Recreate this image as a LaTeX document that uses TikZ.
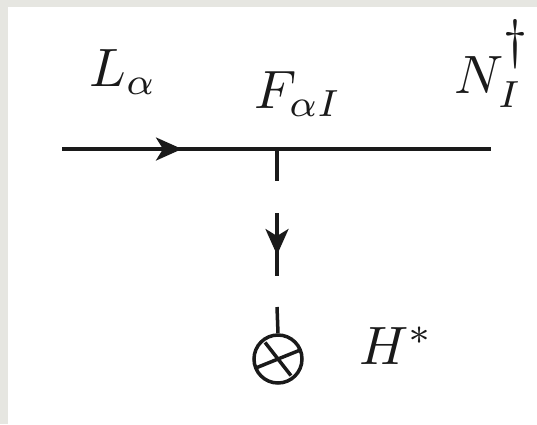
\documentclass[tikz,border=0pt]{standalone}
\usepackage{amsmath}
\usepackage{tikz}
\usetikzlibrary{arrows.meta}
\definecolor{paper}{HTML}{E6E6E1}
\definecolor{ink}{HTML}{1A1A1A}

\begin{document}
\begin{tikzpicture}[x=1pt, y=-1pt, line width=3.5pt, draw=ink,
    lbl/.style={inner sep=0pt, anchor=base west, text=ink, scale=5.4},
    flow/.style={-{Stealth[length=26pt, width=23pt, inset=7pt]}}]
    \fill[paper] (0,0) rectangle (537,424);
    \fill[white] (8,7) rectangle (537,424);
    \useasboundingbox (0,0) rectangle (537,424);
    % fermion line with the vertex in the middle
    \coordinate (lin) at (62,149);
    \coordinate (lout) at (491,149);
    \coordinate (vtx) at (277,149);
    \draw[ink] (lin) -- (lout);
    \draw[ink, flow] (lin) -- (182,149);
    % scalar line, drawn as three dashes
    \coordinate (d1) at (277,181);
    \coordinate (d2a) at (277,213);
    \coordinate (d2b) at (277,276);
    \coordinate (d3) at (277,307);
    \node[circle, draw=ink, line width=3.5pt, minimum size=48pt, inner sep=0pt] (vev) at (278,359) {};
    \draw[ink] (vtx) -- (d1);
    \draw[ink] (d2a) -- (d2b);
    \draw[ink, flow] (d2a) -- (277,255);
    \draw[ink] (d3) -- (vev.north);
    \draw[ink] (vev.center) ++(158:23) -- ++(-22:46);
    \draw[ink] (vev.center) ++(232:21) -- ++(52:42);
    % labels
    \node[lbl] (lname) at (80,86) {$L_\alpha$};
    \node[lbl] (fname) at (245,108) {$F_{\alpha I}$};
    \node[lbl] (nname) at (445,93) {$N_I^{\raisebox{3pt}{$\dagger$}}$};
    \node[lbl] (hname) at (350,364) {$H^*$};
\end{tikzpicture}
\end{document}
